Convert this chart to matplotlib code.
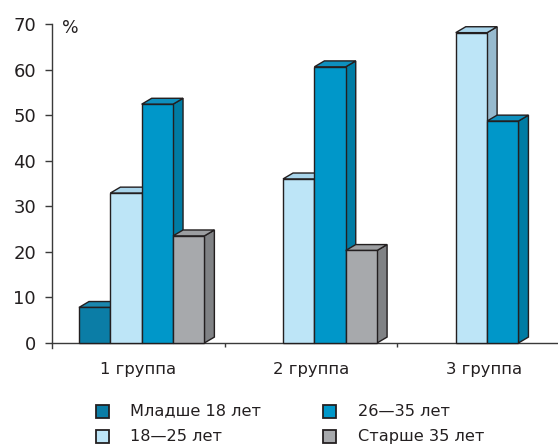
import matplotlib
matplotlib.use("Agg")
import matplotlib.pyplot as plt
from matplotlib.patches import Polygon, Rectangle
import numpy as np

plt.rcParams['font.family'] = ['DejaVu Sans']

groups = ["1 группа", "2 группа", "3 группа"]
series = ["Младше 18 лет", "18—25 лет", "26—35 лет", "Старше 35 лет"]
# values per series across the three groups (None = no bar)
under_18 = [7.8, None, None]
age_18_25 = [32.9, 36.0, 68.1]
age_26_35 = [52.4, 60.6, 48.7]
over_35 = [23.5, 20.3, None]
y_ticks = [0, 10, 20, 30, 40, 50, 60, 70]

values = [under_18, age_18_25, age_26_35, over_35]

# front / top / side shades for each series
front = ["#0B7DA6", "#BDE5F7", "#0097C9", "#A7A9AC"]
top = ["#1A87AE", "#A9D5EB", "#0E90BE", "#9C9EA1"]
side = ["#006E93", "#97BACE", "#007CA4", "#808285"]
edge = "#231F20"
text_col = "#231F20"
axis_col = "#3a3a3a"

PX = 0.72  # points per pixel at 100 dpi

W, H = 558, 444
fig = plt.figure(figsize=(W / 100, H / 100), dpi=100)
ax_left, ax_bottom = 52 / W, 101 / H
ax = fig.add_axes([ax_left, ax_bottom, 1 - ax_left, 319 / H])

x_max = (W - 52) / 172.7
ax.set_xlim(0, x_max)
ax.set_ylim(0, 70)

bar_w = 0.1815
first_off = 0.247
dx, dy = 0.058, 1.3  # oblique depth of the pseudo-3D bars
lw = 1.4 * PX

for g in range(len(groups)):
    for s in range(len(series)):
        v = values[s][g]
        if v is None:
            continue
        x0 = g + first_off - bar_w / 2 + s * bar_w
        x1 = x0 + bar_w
        z = 3 + s
        ax.add_patch(Polygon([(x1, 0), (x1 + dx, dy), (x1 + dx, v + dy), (x1, v)],
                             closed=True, facecolor=side[s], edgecolor=edge,
                             linewidth=lw, joinstyle='miter', zorder=z, clip_on=False))
        ax.add_patch(Polygon([(x0, v), (x0 + dx, v + dy), (x1 + dx, v + dy), (x1, v)],
                             closed=True, facecolor=top[s], edgecolor=edge,
                             linewidth=lw, joinstyle='miter', zorder=z, clip_on=False))
        ax.bar(x0, v, width=bar_w, align='edge', color=front[s], edgecolor=edge,
               linewidth=lw, zorder=z, clip_on=False)

for sp in ["top", "right"]:
    ax.spines[sp].set_visible(False)
for sp in ["left", "bottom"]:
    ax.spines[sp].set_color(axis_col)
    ax.spines[sp].set_linewidth(1.4 * PX)
ax.spines["left"].set_bounds(-1.0, 70)

ax.set_yticks(y_ticks)
ax.set_yticklabels([str(t) for t in y_ticks])
ax.tick_params(axis='y', direction='out', length=7 * PX, width=1.4 * PX, color=axis_col,
               labelsize=13, labelcolor=text_col, pad=9 * PX)

ax.set_xticks([1, 2])
ax.set_xticklabels([])
ax.tick_params(axis='x', direction='out', length=4 * PX, width=1.4 * PX, color=axis_col)
for g, name in enumerate(groups):
    ax.text(g + 0.5, -5.9, name, ha='center', va='center', fontsize=11.8,
            color=text_col)

ax.text(0.06, 69.2, "%", ha='left', va='center', fontsize=12.5, color=text_col)

# legend
leg_rows = [411, 436]
leg_cols = [(96, 130), (323, 358)]
for i, name in enumerate(series):
    col, row = divmod(i, 2)
    mx, tx = leg_cols[col]
    yc = leg_rows[row]
    fig.patches.append(Rectangle((mx / W, 1 - (yc + 6.5) / H), 13 / W, 13 / H,
                                 transform=fig.transFigure, facecolor=front[i],
                                 edgecolor=edge, linewidth=1.8 * PX))
    fig.text(tx / W, 1 - yc / H, name, ha='left', va='center', fontsize=11.6,
             color=text_col)

fig.savefig("out.png", dpi=100)
